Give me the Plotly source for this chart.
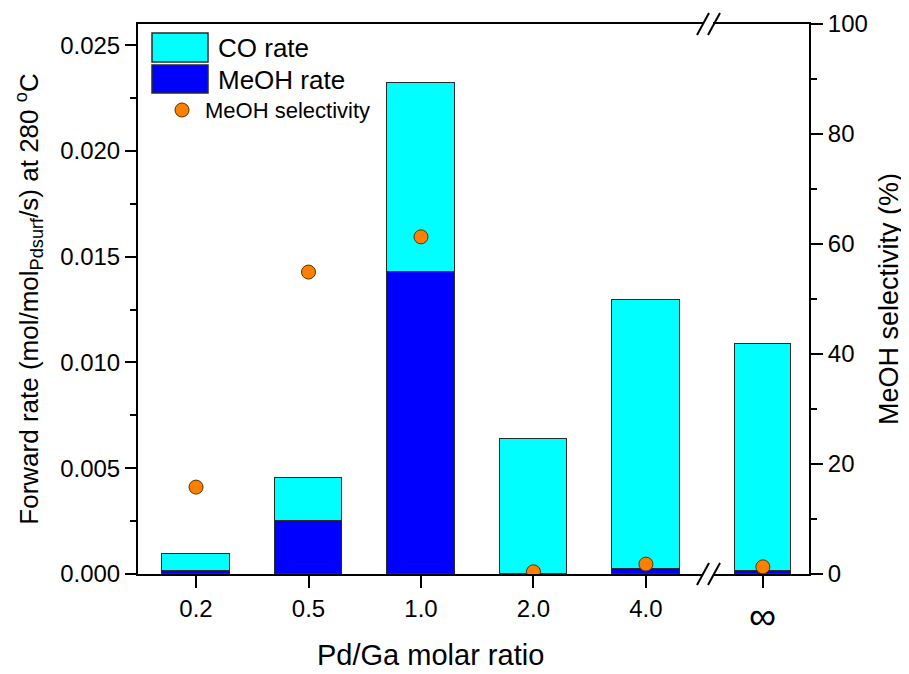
import plotly.graph_objects as go

# ---- data ----
ratio_labels = ["0.2", "0.5", "1.0", "2.0", "4.0", "∞"]
x_pos = [0, 1, 2, 3, 4, 5.04]
bar_widths = [0.6, 0.6, 0.6, 0.6, 0.6, 0.5]
meoh_rate = [0.00014, 0.00252, 0.01429, 0.00001, 0.00022, 0.00014]
total_rate = [0.00093, 0.00455, 0.02322, 0.00638, 0.01295, 0.01087]
co_rate = [t - m for t, m in zip(total_rate, meoh_rate)]
meoh_selectivity = [15.8, 54.9, 61.3, 0.4, 1.8, 1.3]

FONT = "Liberation Sans, Arial, sans-serif"
EDGE = "#2a2a2a"

fig = go.Figure()
fig.add_trace(go.Bar(x=x_pos, y=meoh_rate, width=bar_widths, name="MeOH rate",
                     marker=dict(color="#0000FF", line=dict(color=EDGE, width=1.5)),
                     showlegend=False))
fig.add_trace(go.Bar(x=x_pos, y=co_rate, width=bar_widths, name="CO rate",
                     marker=dict(color="#00FFFF", line=dict(color=EDGE, width=1.5)),
                     showlegend=False))
fig.add_trace(go.Scatter(x=x_pos, y=meoh_selectivity, yaxis="y2", mode="markers",
                         name="MeOH selectivity",
                         marker=dict(size=14, color="#FF8000", line=dict(color="#5a3000", width=1)),
                         showlegend=False))

# page offset of the plot div (default body margin) is 8 px
OFF = 8
W, H = 909 - OFF, 674 - OFF
# plot area in page pixels: x 138..809, y 24..574
L, R, T, B = 138 - OFF, 100, 24 - OFF, 100
PX0, PX1, PY0, PY1 = 138, 809, 24, 574
def px(x): return (x - PX0) / (PX1 - PX0)
def py(y): return (PY1 - y) / (PY1 - PY0)

shapes = []
# custom legend swatches (large boxes as in reference)
shapes.append(dict(type="rect", xref="paper", yref="paper", x0=px(152), x1=px(208), y0=py(62), y1=py(33),
                   fillcolor="#00FFFF", line=dict(color=EDGE, width=1.5)))
shapes.append(dict(type="rect", xref="paper", yref="paper", x0=px(152), x1=px(208), y0=py(93), y1=py(65),
                   fillcolor="#0000FF", line=dict(color=EDGE, width=1.5)))
shapes.append(dict(type="circle", xref="paper", yref="paper", x0=px(175), x1=px(189), y0=py(117), y1=py(103),
                   fillcolor="#FF8000", line=dict(color="#5a3000", width=1)))

# axis break marks (top and bottom)
for yb in (24, 574):
    shapes.append(dict(type="rect", xref="paper", yref="paper", x0=px(703), x1=px(713),
                       y0=py(yb + 3), y1=py(yb - 3), fillcolor="white", line=dict(width=0), layer="above"))
    for x0 in (697, 708):
        shapes.append(dict(type="line", xref="paper", yref="paper", x0=px(x0), x1=px(x0 + 12),
                           y0=py(yb + 11), y1=py(yb - 11), line=dict(color="black", width=2), layer="above"))

annotations = [
    dict(text="CO rate", xref="paper", yref="paper", x=px(216), y=py(48), xanchor="left", yanchor="middle",
         showarrow=False, font=dict(size=26, color="black", family=FONT)),
    dict(text="MeOH rate", xref="paper", yref="paper", x=px(216), y=py(80), xanchor="left", yanchor="middle",
         showarrow=False, font=dict(size=26, color="black", family=FONT)),
    dict(text="MeOH selectivity", xref="paper", yref="paper", x=px(203), y=py(110), xanchor="left",
         yanchor="middle", showarrow=False, font=dict(size=22, color="black", family=FONT)),
    # x-axis title
    dict(text="Pd/Ga molar ratio", xref="paper", yref="paper", x=px(430), y=py(655), xanchor="center",
         yanchor="middle", showarrow=False, font=dict(size=29, color="black", family=FONT)),
    # infinity tick label (larger, sits lower than the numeric labels)
    dict(text=ratio_labels[-1], xref="x", yref="paper", x=x_pos[-1], y=py(616), xanchor="center",
         yanchor="middle", showarrow=False, font=dict(size=38, color="black", family=FONT)),
]

ticktext = ratio_labels[:-1] + [" "]

fig.update_layout(
    width=W, height=H,
    margin=dict(l=L, r=R, t=T, b=B, autoexpand=False),
    paper_bgcolor="white", plot_bgcolor="white",
    barmode="stack", bargap=0,
    font=dict(family=FONT, size=24, color="black"),
    shapes=shapes, annotations=annotations,
    xaxis=dict(range=[-0.516, 5.45], tickvals=x_pos, ticktext=ticktext,
               showline=True, linecolor="black", linewidth=2, mirror=True,
               ticks="outside", ticklen=12, tickwidth=2, tickcolor="black",
               showgrid=False, zeroline=False),
    yaxis=dict(range=[0, 0.026], tickvals=[0, 0.005, 0.01, 0.015, 0.02, 0.025],
               tickformat=".3f", showline=True, linecolor="black", linewidth=2,
               ticks="outside", ticklen=11, tickwidth=2, tickcolor="black",
               minor=dict(dtick=0.0025, ticks="outside", ticklen=6, tickwidth=2, tickcolor="black", showgrid=False),
               showgrid=False, zeroline=False,
               title=dict(text="Forward rate (mol/mol<sub>Pdsurf</sub>/s) at 280 <sup>o</sup>C",
                          font=dict(size=26), standoff=14)),
    yaxis2=dict(range=[0, 100], overlaying="y", side="right", tickvals=[0, 20, 40, 60, 80, 100],
                showline=True, linecolor="black", linewidth=2,
                ticks="outside", ticklen=12, tickwidth=2, tickcolor="black",
                minor=dict(dtick=10, ticks="outside", ticklen=6, tickwidth=2, tickcolor="black", showgrid=False),
                showgrid=False, zeroline=False,
                title=dict(text="MeOH selectivity (%)", font=dict(size=27), standoff=12)),
)

fig.write_html("out.html")
